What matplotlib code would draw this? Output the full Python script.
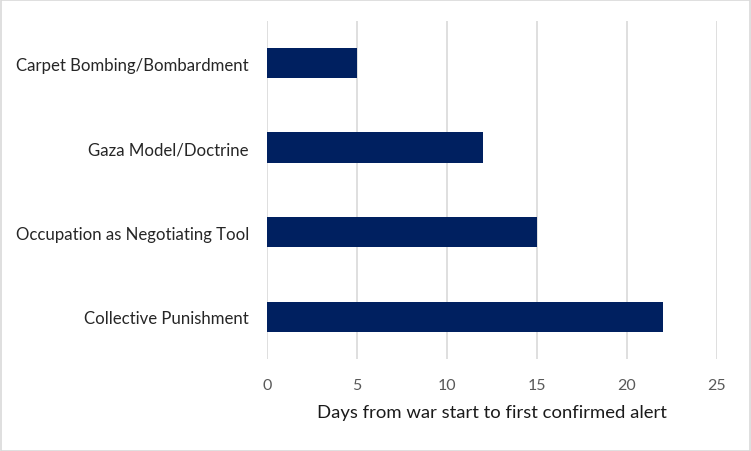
import matplotlib.pyplot as plt
from matplotlib.patches import Rectangle

categories = ["Carpet Bombing/Bombardment", "Gaza Model/Doctrine",
              "Occupation as Negotiating Tool", "Collective Punishment"]
days = [5, 12, 15, 22]
x_ticks = [0, 5, 10, 15, 20, 25]

plt.rcParams['font.family'] = ['Lato', 'DejaVu Sans']

fig = plt.figure(figsize=(7.51, 4.52), dpi=100)
ax = fig.add_axes([0.3555, 0.2035, 0.599, 0.748])

pos = list(range(len(categories)))
ax.barh(pos, days, height=0.36, color='#002060', zorder=3)
ax.set_ylim(len(categories) - 0.5, -0.5)
ax.set_xlim(0, 25)
ax.set_yticks(pos)
ax.set_yticklabels(categories, fontsize=12.1, color='#262626')
ax.set_xticks(x_ticks)
ax.set_xticklabels([str(t) for t in x_ticks], fontsize=11.5, color='#595959')
ax.tick_params(axis='both', length=0)
ax.tick_params(axis='x', pad=14)
ax.tick_params(axis='y', pad=13)
ax.grid(axis='x', color='#D9D9D9', linewidth=1.2, zorder=0)
for s in ax.spines.values():
    s.set_visible(False)
ax.set_xlabel("Days from war start to first confirmed alert", fontsize=13.3,
              color='#1a1a1a', labelpad=8)

fig.patches.append(Rectangle((0.001, 0.001), 0.998, 0.997, transform=fig.transFigure,
                             fill=False, edgecolor='#D9D9D9', linewidth=1.2))

fig.savefig("out.png", dpi=100)
